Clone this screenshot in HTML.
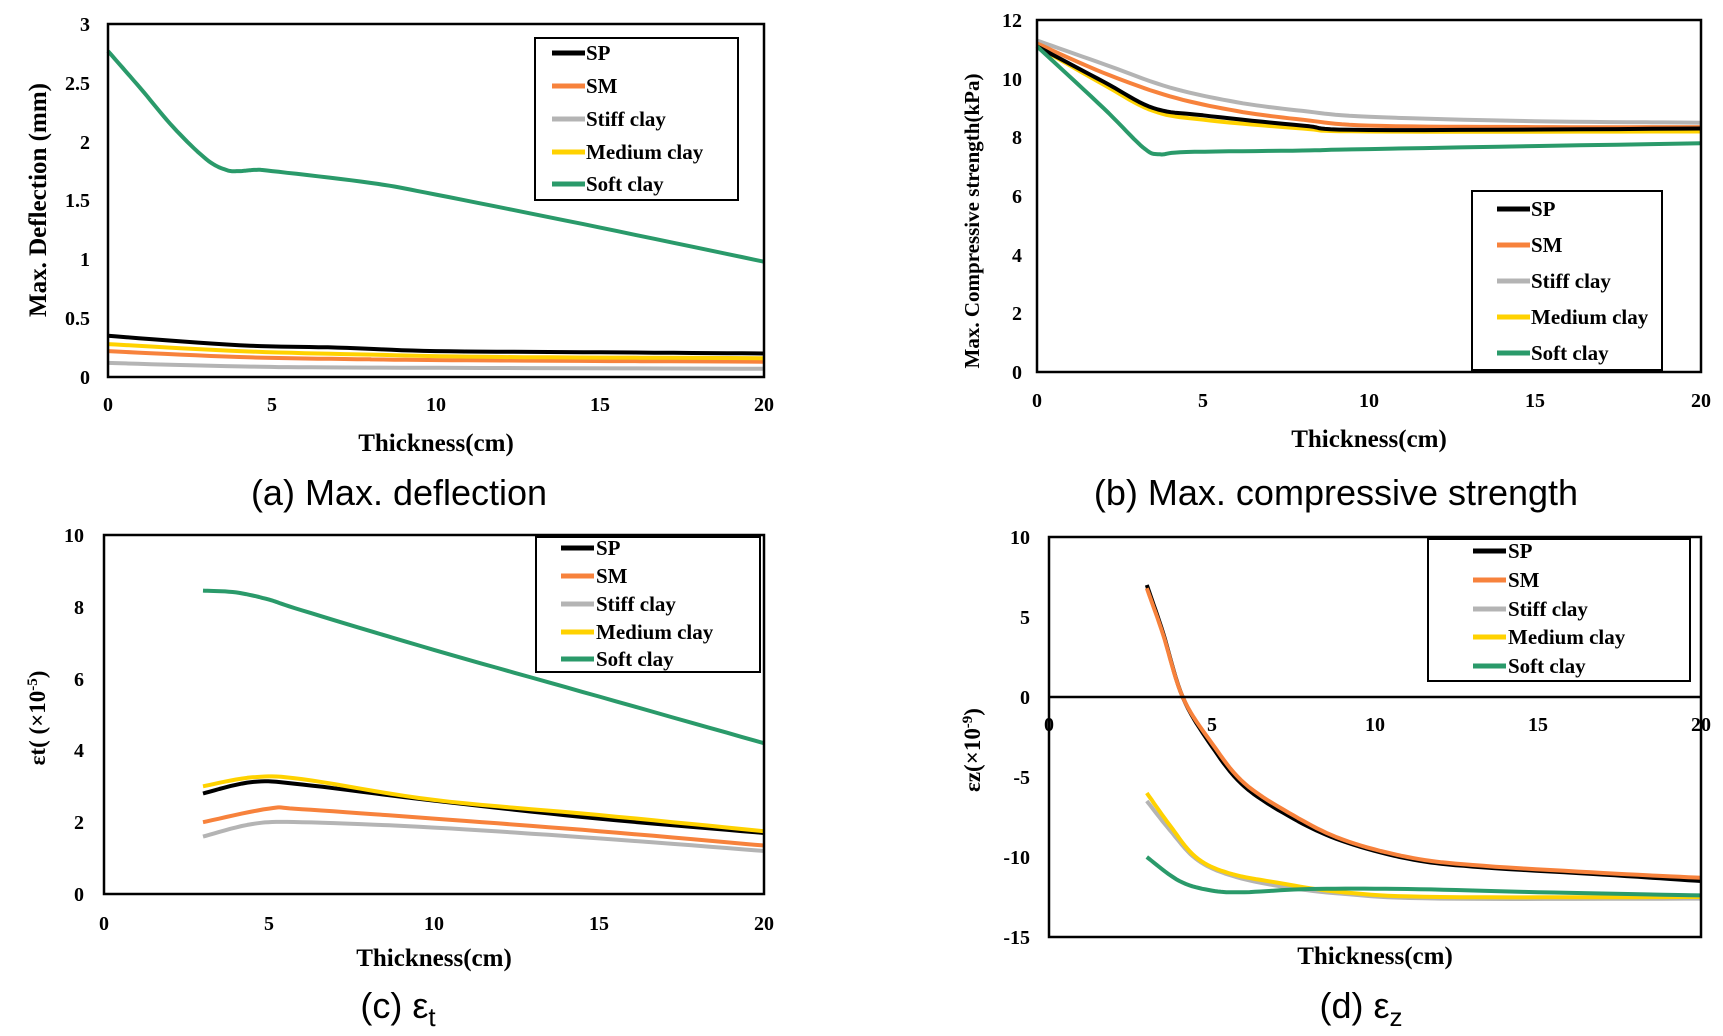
<!DOCTYPE html>
<html><head><meta charset="utf-8">
<style>
html,body{margin:0;padding:0;background:#fff;}
svg{display:block;}
.t{font-family:"Liberation Serif",serif;font-weight:bold;font-size:20px;fill:#000;}
.lab{font-family:"Liberation Serif",serif;font-weight:bold;font-size:25px;fill:#000;}
.cap{font-family:"Liberation Sans","NanumGothic",sans-serif;font-size:36px;fill:#000;}
.lg{font-family:"Liberation Serif",serif;font-weight:bold;font-size:21px;fill:#000;}
</style></head><body>
<svg id="s" width="1723" height="1036" viewBox="0 0 1723 1036" xmlns="http://www.w3.org/2000/svg">
<rect width="1723" height="1036" fill="#fff"/>
<g id="lines"></g>

<!-- Panel A -->
<rect x="108" y="24" width="656" height="353" fill="none" stroke="#000" stroke-width="2.5"/>
<g class="t" text-anchor="end">
<text x="90" y="384">0</text><text x="90" y="325">0.5</text><text x="90" y="266">1</text>
<text x="90" y="207">1.5</text><text x="90" y="149">2</text><text x="90" y="90">2.5</text><text x="90" y="31">3</text>
</g>
<g class="t" text-anchor="middle">
<text x="108" y="411">0</text><text x="272" y="411">5</text><text x="436" y="411">10</text><text x="600" y="411">15</text><text x="764" y="411">20</text>
</g>
<text class="lab" x="436" y="451" text-anchor="middle">Thickness(cm)</text>
<text class="lab" transform="translate(46,200) rotate(-90)" text-anchor="middle">Max. Deflection (mm)</text>
<text class="cap" x="399" y="505" text-anchor="middle">(a) Max. deflection</text>

<!-- Panel B -->
<rect x="1037" y="20" width="664" height="352" fill="none" stroke="#000" stroke-width="2.5"/>
<g class="t" text-anchor="end">
<text x="1022" y="379">0</text><text x="1022" y="320">2</text><text x="1022" y="262">4</text><text x="1022" y="203">6</text>
<text x="1022" y="144">8</text><text x="1022" y="86">10</text><text x="1022" y="27">12</text>
</g>
<g class="t" text-anchor="middle">
<text x="1037" y="407">0</text><text x="1203" y="407">5</text><text x="1369" y="407">10</text><text x="1535" y="407">15</text><text x="1701" y="407">20</text>
</g>
<text class="lab" x="1369" y="447" text-anchor="middle">Thickness(cm)</text>
<text class="lab" style="font-size:21px" transform="translate(979,221) rotate(-90)" text-anchor="middle">Max. Compressive  strength(kPa)</text>
<text class="cap" x="1336" y="505" text-anchor="middle">(b) Max. compressive strength</text>

<!-- Panel C -->
<rect x="104" y="535" width="660" height="359" fill="none" stroke="#000" stroke-width="2.5"/>
<g class="t" text-anchor="end">
<text x="84" y="901">0</text><text x="84" y="829">2</text><text x="84" y="757">4</text><text x="84" y="686">6</text>
<text x="84" y="614">8</text><text x="84" y="542">10</text>
</g>
<g class="t" text-anchor="middle">
<text x="104" y="930">0</text><text x="269" y="930">5</text><text x="434" y="930">10</text><text x="599" y="930">15</text><text x="764" y="930">20</text>
</g>
<text class="lab" x="434" y="966" text-anchor="middle">Thickness(cm)</text>
<text class="lab" style="font-size:23px" transform="translate(45,718) rotate(-90)" text-anchor="middle">εt( (×10<tspan dy="-8" font-size="15">-5</tspan><tspan dy="8">)</tspan></text>
<text class="cap" x="398" y="1018" text-anchor="middle">(c) ε<tspan dy="8" font-size="26">t</tspan></text>

<!-- Panel D -->
<rect x="1049" y="537" width="652" height="400" fill="none" stroke="#000" stroke-width="2.5"/>
<line x1="1049" y1="697" x2="1701" y2="697" stroke="#000" stroke-width="2.5"/>
<g class="t" text-anchor="end">
<text x="1030" y="544">10</text><text x="1030" y="624">5</text><text x="1030" y="704">0</text>
<text x="1030" y="784">-5</text><text x="1030" y="864">-10</text><text x="1030" y="944">-15</text>
</g>
<g class="t" text-anchor="middle">
<text x="1049" y="731">0</text><text x="1212" y="731">5</text><text x="1375" y="731">10</text><text x="1538" y="731">15</text><text x="1701" y="731">20</text>
</g>
<text class="lab" x="1375" y="964" text-anchor="middle">Thickness(cm)</text>
<text class="lab" style="font-size:23px" transform="translate(980,750) rotate(-90)" text-anchor="middle">εz(×10<tspan dy="-8" font-size="15">-9</tspan><tspan dy="8">)</tspan></text>
<text class="cap" x="1361" y="1018" text-anchor="middle">(d) ε<tspan dy="8" font-size="26">z</tspan></text>

<!-- Legends -->
<g id="legends"></g>
<g class="lg">
<text x="586" y="60">SP</text><text x="586" y="93">SM</text><text x="586" y="126">Stiff clay</text><text x="586" y="159">Medium clay</text><text x="586" y="191">Soft clay</text>
<text x="1531" y="216">SP</text><text x="1531" y="252">SM</text><text x="1531" y="288">Stiff clay</text><text x="1531" y="324">Medium clay</text><text x="1531" y="360">Soft clay</text>
<text x="596" y="555">SP</text><text x="596" y="583">SM</text><text x="596" y="611">Stiff clay</text><text x="596" y="639">Medium clay</text><text x="596" y="666">Soft clay</text>
<text x="1508" y="558">SP</text><text x="1508" y="587">SM</text><text x="1508" y="616">Stiff clay</text><text x="1508" y="644">Medium clay</text><text x="1508" y="673">Soft clay</text>
</g>
</svg>
<script>
var C={SP:"#000",SM:"#f7823c",ST:"#b4b4b4",ME:"#ffd200",SO:"#2a9a6a"};
var NS="http://www.w3.org/2000/svg";
var G=document.getElementById("lines"),L=document.getElementById("legends");
function cr(pts){var o=[];for(var i=0;i<pts.length-1;i++){var p0=pts[Math.max(0,i-1)],p1=pts[i],p2=pts[i+1],p3=pts[Math.min(pts.length-1,i+2)];
for(var t=0;t<1;t+=0.1){var t2=t*t,t3=t2*t;
var x=0.5*((2*p1[0])+(-p0[0]+p2[0])*t+(2*p0[0]-5*p1[0]+4*p2[0]-p3[0])*t2+(-p0[0]+3*p1[0]-3*p2[0]+p3[0])*t3);
var y=0.5*((2*p1[1])+(-p0[1]+p2[1])*t+(2*p0[1]-5*p1[1]+4*p2[1]-p3[1])*t2+(-p0[1]+3*p1[1]-3*p2[1]+p3[1])*t3);o.push([x,y]);}}
o.push(pts[pts.length-1]);return o;}
function plot(ax,data,col){var pts=data.map(function(d){return [ax.x0+d[0]/20*(ax.x1-ax.x0),ax.yb-(d[1]-ax.vmin)/(ax.vmax-ax.vmin)*(ax.yb-ax.yt)];});
var p=document.createElementNS(NS,"polyline");p.setAttribute("points",cr(pts).map(function(a){return a[0].toFixed(1)+","+a[1].toFixed(1)}).join(" "));
p.setAttribute("fill","none");p.setAttribute("stroke",col);p.setAttribute("stroke-width","4");p.setAttribute("stroke-linejoin","round");G.appendChild(p);}
var A={x0:108,x1:764,yt:24,yb:377,vmin:0,vmax:3};
plot(A,[[0,.12],[4,.09],[8,.08],[20,.07]],C.ST);
plot(A,[[0,.22],[4,.17],[8,.15],[12,.14],[20,.13]],C.SM);
plot(A,[[0,.28],[4,.22],[8,.19],[12,.17],[20,.16]],C.ME);
plot(A,[[0,.35],[4,.27],[7,.25],[10,.22],[15,.21],[20,.2]],C.SP);
plot(A,[[0,2.77],[1,2.45],[2,2.12],[3,1.85],[3.6,1.76],[4,1.75],[4.5,1.76],[5,1.75],[8,1.65],[10,1.55],[15,1.27],[20,.98]],C.SO);
var B={x0:1037,x1:1701,yt:20,yb:372,vmin:0,vmax:12};
plot(B,[[0,11.3],[2,10.5],[4,9.7],[6,9.2],[8,8.9],[10,8.7],[15,8.55],[20,8.5]],C.ST);
plot(B,[[0,11.2],[2,10.2],[4,9.4],[6,8.9],[8,8.6],[10,8.4],[15,8.35],[20,8.35]],C.SM);
plot(B,[[0,11.1],[2,9.8],[3.5,8.9],[5,8.6],[8,8.3],[10,8.2],[20,8.2]],C.ME);
plot(B,[[0,11.1],[2,9.9],[3.5,9.0],[5,8.75],[8,8.4],[10,8.25],[20,8.3]],C.SP);
plot(B,[[0,11.1],[2,9.0],[3.2,7.65],[3.7,7.42],[4.5,7.5],[8,7.55],[10,7.6],[20,7.8]],C.SO);
var Cc={x0:104,x1:764,yt:535,yb:894,vmin:0,vmax:10};
plot(Cc,[[3,1.6],[4.5,1.95],[6,2.0],[10,1.85],[15,1.55],[20,1.2]],C.ST);
plot(Cc,[[3,2.0],[5,2.38],[6,2.36],[10,2.1],[15,1.75],[20,1.35]],C.SM);
plot(Cc,[[3,2.8],[4.5,3.12],[6,3.05],[10,2.6],[15,2.1],[20,1.7]],C.SP);
plot(Cc,[[3,3.0],[4.5,3.25],[6,3.2],[10,2.62],[15,2.2],[20,1.75]],C.ME);
plot(Cc,[[3,8.45],[4,8.4],[5,8.2],[6,7.9],[10,6.8],[15,5.5],[20,4.2]],C.SO);
var D={x0:1049,x1:1701,yt:537,yb:937,vmin:-15,vmax:10};
plot(D,[[3,-6.5],[3.7,-8.3],[4.5,-10.1],[5.5,-11.1],[7,-11.8],[9,-12.3],[12,-12.6],[20,-12.6]],C.ST);
plot(D,[[3,-6],[3.7,-8],[4.5,-10],[5.5,-11],[7,-11.6],[9,-12.2],[12,-12.5],[20,-12.5]],C.ME);
plot(D,[[3,-10],[4,-11.5],[5,-12.1],[6,-12.2],[8,-12],[11,-12.0],[15,-12.2],[20,-12.4]],C.SO);
plot(D,[[3,7],[3.5,4],[4.1,0],[5,-3.1],[6,-5.6],[7.5,-7.6],[9,-9],[11,-10.1],[13,-10.6],[17,-11.1],[20,-11.5]],C.SP);
plot(D,[[3,6.8],[3.5,3.9],[4.1,0],[5,-2.9],[6,-5.4],[7.5,-7.4],[9,-8.9],[11,-10],[13,-10.5],[17,-11],[20,-11.3]],C.SM);
function leg(x,y,w,h,lx,ys){var r=document.createElementNS(NS,"rect");r.setAttribute("x",x);r.setAttribute("y",y);r.setAttribute("width",w);r.setAttribute("height",h);
r.setAttribute("fill","#fff");r.setAttribute("stroke","#000");r.setAttribute("stroke-width","2");L.appendChild(r);
var cs=[C.SP,C.SM,C.ST,C.ME,C.SO];for(var i=0;i<5;i++){var l=document.createElementNS(NS,"line");l.setAttribute("x1",lx);l.setAttribute("x2",lx+33);
l.setAttribute("y1",ys[i]);l.setAttribute("y2",ys[i]);l.setAttribute("stroke",cs[i]);l.setAttribute("stroke-width","5");L.appendChild(l);}}
leg(535,38,203,162,552,[53,86,119,152,184]);
leg(1472,191,190,179,1497,[209,245,281,317,353]);
leg(536,537,224,135,561,[548,576,604,632,659]);
leg(1428,539,262,142,1473,[551,580,609,637,666]);
</script>
</body></html>
